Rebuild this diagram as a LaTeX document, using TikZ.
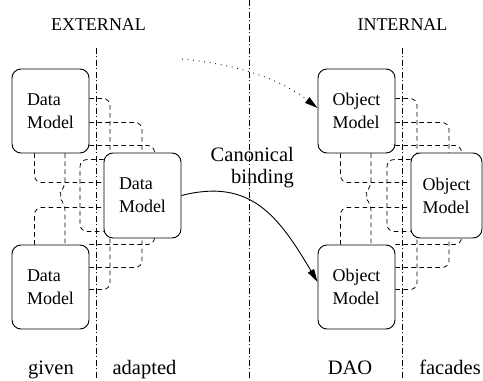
\documentclass[tikz,border=0pt]{standalone}
\usepackage{fontspec}
\setmainfont{Liberation Serif}
\usetikzlibrary{arrows.meta}

\tikzset{
  model/.style={draw, line width=0.9pt, rounded corners=9pt, fill=white,
    minimum width=77pt, minimum height=84pt, inner sep=0pt, align=left,
    font=\fontsize{18}{22.7}\selectfont},
  wire/.style={line width=0.75pt, dash pattern=on 4.5pt off 3.5pt, rounded corners=7pt},
  divider/.style={line width=0.75pt, dash pattern=on 6pt off 2.5pt on 1pt off 2.5pt},
  heading/.style={anchor=base, font=\fontsize{18}{21}\selectfont},
  tag/.style={anchor=base, font=\fontsize{20.5}{21.6}\selectfont},
  tip/.style={-{Triangle[length=13pt,width=7pt]}, line width=0.9pt},
}

% dashed wiring between an upper box, a side box and a lower box
\newcommand\modelwires[3]{%
  \draw[wire] ([yshift=-30pt]#1.north east) -| ([xshift=6.5pt]#2.north west);
  \draw[wire] ([yshift=-54pt]#1.north east) -| ([xshift=38.5pt]#2.north west);
  \draw[wire] ([yshift=8pt]#1.south east) -| ([xshift=51pt]#2.north west);
  \draw[wire] ([xshift=23pt]#1.south west) |- ([yshift=-30pt]#2.north west);
  \draw[wire] ([yshift=-7pt]#2.north west) -| ([xshift=-23.5pt,yshift=7pt]#2.south west)
              -- ([yshift=7pt]#2.south west);
  \draw[wire] ([xshift=23pt]#3.north west) |- ([yshift=31pt]#2.south west);
  \draw[wire] ([yshift=-45pt]#3.north east) -| ([xshift=6.5pt]#2.south west);
  \draw[wire] ([yshift=-23pt]#3.north east) -| ([xshift=38.5pt]#2.south west);
  \draw[wire] (#3.north east) -| ([xshift=51pt]#2.south west);
  \draw[wire] ([xshift=53.5pt]#1.south west) -- ++(0,-34pt)
              .. controls +(-4pt,-4pt) and +(-4pt,4pt) .. ++(0,-16pt)
              -- ([xshift=53.5pt]#3.north west);
}

\begin{document}
\begin{tikzpicture}[x=1pt, y=1pt]
  \useasboundingbox (0,0) rectangle (483,381);

  % column dividers
  \draw[divider] (96.5,333) -- (96.5,3);
  \draw[divider] (249,381) -- (249,3);
  \draw[divider] (402.5,333) -- (402.5,3);

  % headings
  \node[heading] (ext) at (98.5,350.3) {EXTERNAL};
  \node[heading] (int) at (402.5,350.3) {INTERNAL};

  % external side
  \node[model] (A) at (50.5,270) {Data\\Model};
  \node[model, minimum height=85pt] (B) at (142.5,185.5) {Data\\Model};
  \node[model] (C) at (50.5,94) {Data\\Model};

  % internal side
  \node[model] (D) at (356.5,270) {Object\\Model};
  \node[model, minimum height=85pt, minimum width=71pt] (E) at (446.5,185.5) {Object\\Model};
  \node[model] (F) at (356.5,94) {Object\\Model};

  \modelwires{A}{B}{C}
  \modelwires{D}{E}{F}

  % binding arrows
  \node[align=right, font=\fontsize{20.5}{21.6}\selectfont] (canon) at (252.3,213.3) {Canonical\\binding};
  \coordinate (lookup) at (182,322);
  \draw[tip, dash pattern=on 0.8pt off 4.8pt] (lookup)
        .. controls (252,315) and (288,296) .. ([yshift=3pt]D.west);
  \draw[tip] (B.east) .. controls (250,203) and (278,166) .. ([yshift=5pt]F.west);

  % column labels
  \node[tag] (given) at (51,6) {given};
  \node[tag] (adapted) at (144.5,6) {adapted};
  \node[tag] (dao) at (350,6) {DAO};
  \node[tag] (facades) at (450,6) {facades};
\end{tikzpicture}
\end{document}
